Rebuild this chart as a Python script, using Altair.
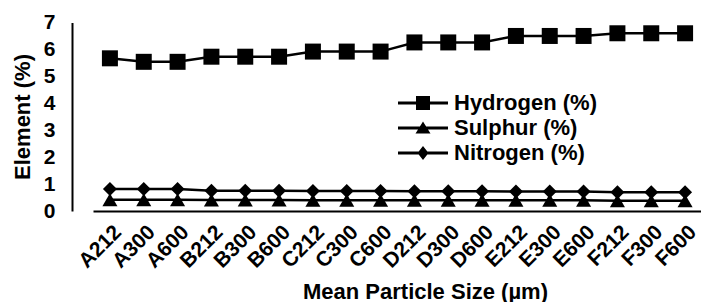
import altair as alt
import pandas as pd

categories = ["A212", "A300", "A600", "B212", "B300", "B600", "C212", "C300", "C600",
              "D212", "D300", "D600", "E212", "E300", "E600", "F212", "F300", "F600"]
hydrogen = [5.67, 5.54, 5.54, 5.73, 5.73, 5.73, 5.92, 5.92, 5.92,
            6.26, 6.26, 6.26, 6.50, 6.50, 6.50, 6.60, 6.60, 6.60]
sulphur = [0.42, 0.42, 0.42, 0.41, 0.41, 0.41, 0.40, 0.40, 0.40,
           0.40, 0.40, 0.40, 0.40, 0.40, 0.40, 0.38, 0.38, 0.38]
nitrogen = [0.82, 0.82, 0.82, 0.75, 0.75, 0.75, 0.74, 0.74, 0.74,
            0.73, 0.73, 0.73, 0.72, 0.72, 0.72, 0.70, 0.70, 0.70]
series_names = ["Hydrogen (%)", "Sulphur (%)", "Nitrogen (%)"]
y_ticks = [0, 1, 2, 3, 4, 5, 6, 7]

rows = []
for name, vals in zip(series_names, [hydrogen, sulphur, nitrogen]):
    for c, v in zip(categories, vals):
        rows.append({"sample": c, "value": v, "series": name})
df = pd.DataFrame(rows)

FONT = "Liberation Sans"

x = alt.X("sample:N", sort=categories,
          scale=alt.Scale(range=[21, 630]),
          axis=alt.Axis(title="Mean Particle Size (µm)", labelAngle=-45,
                        labelFontSize=21, labelFontWeight="bold", labelColor="black",
                        labelFont=FONT, labelPadding=10, ticks=False,
                        domainColor="black", domainWidth=2,
                        titleFont=FONT, titleFontSize=22, titleFontWeight="bold",
                        titleColor="black", titleX=353, titleY=80,
                        titleBaseline="middle"))
y = alt.Y("value:Q",
          scale=alt.Scale(domain=[0, 7], nice=False),
          axis=alt.Axis(title="Element (%)", values=y_ticks, grid=False, ticks=False,
                        labelFontSize=21, labelFontWeight="bold", labelColor="black",
                        labelFont=FONT, labelPadding=17,
                        domainColor="black", domainWidth=2,
                        titleFont=FONT, titleFontSize=22, titleFontWeight="bold",
                        titleColor="black", titleX=-50, titleY=94,
                        titleBaseline="middle"))

base = alt.Chart(df)

lines = base.mark_line(color="black", strokeWidth=2.5).encode(
    x=x, y=y, detail="series:N")

points = base.mark_point(filled=True, opacity=1, color="black").encode(
    x=x, y=y,
    shape=alt.Shape("series:N",
                    scale=alt.Scale(domain=series_names,
                                    range=["square", "triangle-up", "diamond"]),
                    legend=None),
    size=alt.Size("series:N",
                  scale=alt.Scale(domain=series_names, range=[256, 196, 170]),
                  legend=None))

legend_paths = [
    "M-2,-0.12H2V0.12H-2Z M-0.56,-0.56H0.56V0.56H-0.56Z",
    "M-2,-0.12H2V0.12H-2Z M0,-0.52L0.6,0.44L-0.6,0.44Z",
    "M-2,-0.12H2V0.12H-2Z M0,-0.56L0.44,0L0,0.56L-0.44,0Z",
]

legend_layer = base.mark_point(filled=True, opacity=0, color="black").encode(
    x=x, y=y,
    shape=alt.Shape("series:N",
                    scale=alt.Scale(domain=series_names, range=legend_paths),
                    legend=alt.Legend(title=None, orient="none", legendX=338.5, legendY=68,
                                      symbolSize=625, symbolFillColor="black",
                                      symbolStrokeWidth=0, symbolOpacity=1,
                                      labelFont=FONT, labelFontSize=22,
                                      labelFontWeight="bold", labelColor="black",
                                      labelOffset=18.5, rowPadding=1, padding=0)))

chart = alt.layer(lines, points, legend_layer).resolve_scale(
    shape="independent", size="independent"
).properties(
    width=629, height=188.5, autosize="none",
    padding={"left": 64, "top": 14.5, "right": 0, "bottom": 91},
    background="white"
).configure_view(stroke=None)

chart.save("out.html", embed_options={"renderer": "svg", "actions": False})
